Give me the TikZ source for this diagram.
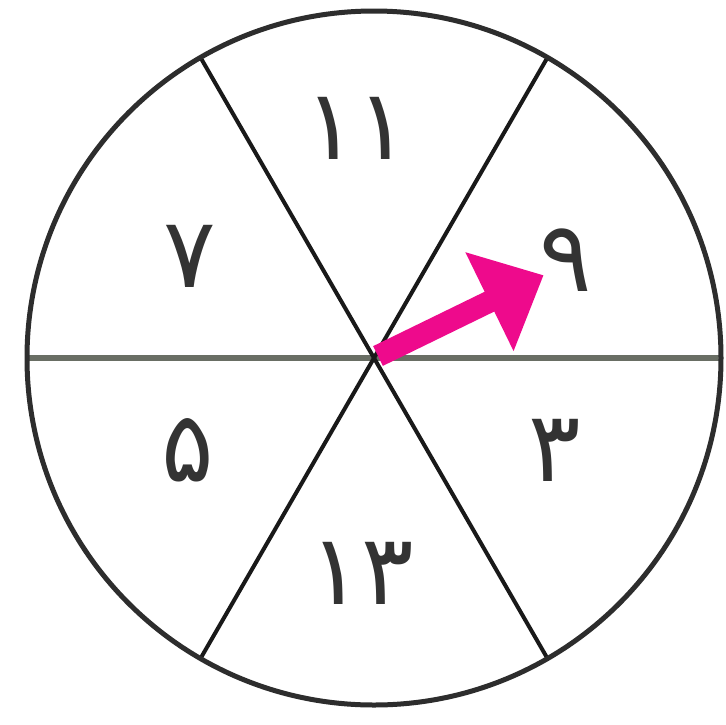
\documentclass[tikz,border=0pt]{standalone}
\usepackage{fontspec}
\usetikzlibrary{calc}
\newfontfamily\arabicfont[Script=Arabic]{DejaVu Sans}
\definecolor{rimcol}{RGB}{45,45,45}
\definecolor{axiscol}{RGB}{105,110,100}
\definecolor{pinkarrow}{RGB}{238,10,140}
\tikzset{
  rim/.style={draw=rimcol,line width=5pt},
  spoke/.style={draw=black!90,line width=4pt},
  axisline/.style={draw=axiscol,line width=6.5pt},
  digit/.style={text=black!80,font=\arabicfont\fontsize{98}{100}\selectfont,inner sep=0pt}
}
\begin{document}
\begin{tikzpicture}[x=1pt,y=-1pt]
\useasboundingbox (0,0) rectangle (726,724);
\fill[white] (0,0) rectangle (726,724);
\coordinate (C) at (374,358);
\coordinate (A0) at ($(C)+(0:347)$);
\coordinate (A180) at ($(C)+(180:347)$);
\coordinate (A60) at ($(C)+(-60:347)$);
\coordinate (A240) at ($(C)+(120:347)$);
\coordinate (A120) at ($(C)+(-120:347)$);
\coordinate (A300) at ($(C)+(60:347)$);
\draw[axisline] (A180) -- (A0);
\draw[spoke] (A60) -- (A240);
\draw[spoke] (A120) -- (A300);
\draw[rim] (C) circle[radius=347];
\begin{scope}[shift={(378,356)},rotate=26]
\fill[pinkarrow] (0,-11) -- (124,-11) -- (124,-55) -- (184,0) -- (124,55) -- (124,11) -- (0,11) -- cycle;
\end{scope}
\node[digit] (d11) at (357,128) {۱۱};
\node[digit] (d7) at (190,256) {۷};
\node[digit] (d9) at (566,260) {۹};
\node[digit] (d5) at (188,450) {۵};
\node[digit] (d3) at (555,450) {۳};
\node[digit] (d13) at (362,573) {۱۳};
\end{tikzpicture}
\end{document}
